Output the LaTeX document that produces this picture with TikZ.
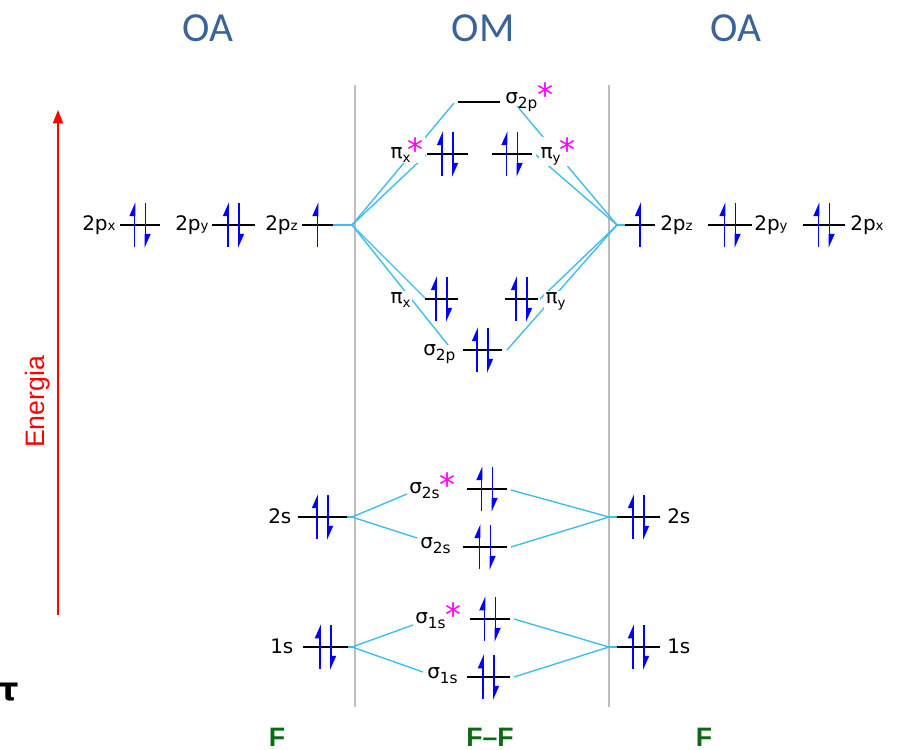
\documentclass[tikz,border=0pt]{standalone}
\usepackage{fontspec}
\setmainfont{DejaVu Sans}
\newfontfamily\hdrfont{Carlito}
\newfontfamily\arfont{Liberation Sans}
\usetikzlibrary{arrows.meta}
\definecolor{hdrblue}{RGB}{58,100,152}
\definecolor{conncol}{RGB}{64,190,235}
\definecolor{fgreen}{RGB}{10,105,20}
\definecolor{vgray}{RGB}{190,190,190}
\definecolor{ebl}{RGB}{0,0,255}
\definecolor{starmag}{RGB}{255,0,255}
\newcommand\sbs[1]{\raisebox{-4pt}{\fontsize{11.5}{12}\selectfont #1}}
\newcommand\sbl[1]{\raisebox{-3pt}{\fontsize{10}{12}\selectfont #1}}
\newcommand\sbp[1]{\raisebox{-0.5pt}{\fontsize{10}{12}\selectfont #1}}
\newcommand\stx{\raisebox{-2.9pt}{\textcolor{starmag}{\fontsize{24}{24}\selectfont *}}}
\newcommand\lvl[5]{%
  \coordinate (#1-w) at (#2,#4);
  \coordinate (#1-e) at (#3,#4);
  \draw[levelline] (#1-w) -- (#1-e);
  \pgfmathsetmacro\cx{(#2+#3)/2}%
  \ifnum#5=1
    \draw[elec] (\cx,#4+22) -- (\cx,#4-23);
  \fi
  \ifnum#5=2
    \draw[elec] (\cx-5.5,#4+22) -- (\cx-5.5,#4-23);
    \draw[elec] (\cx+5.5,#4-22) -- (\cx+5.5,#4+23);
  \fi}
\begin{document}
\begin{tikzpicture}[x=0.75pt,y=-0.75pt,
  levelline/.style={black,line width=1.2pt},
  elec/.style={ebl,line width=1.4pt,-{Triangle[left,length=9pt,width=7.5pt]}},
  conn/.style={conncol,line width=1.05pt},
  sepline/.style={vgray,line width=1pt},
  orb/.style={font=\fontsize{15}{18}\selectfont,inner sep=0pt,anchor=base west},
  orbw/.style={orb,fill=white,inner sep=1pt},
  hdr/.style={font=\hdrfont\fontsize{31}{31}\selectfont,text=hdrblue},
  atom/.style={font=\arfont\bfseries\fontsize{20}{20}\selectfont,text=fgreen,inner sep=0pt}]
\useasboundingbox (0,0) rectangle (905,749);

% headers
\node[hdr] (oa1) at (208,28) {OA};
\node[hdr] (om) at (483,28) {OM};
\node[hdr] (oa2) at (736,28) {OA};

% separators
\coordinate (sepLt) at (355,85); \coordinate (sepLb) at (355,707);
\coordinate (sepRt) at (609,85); \coordinate (sepRb) at (609,707);
\draw[sepline] (sepLt) -- (sepLb);
\draw[sepline] (sepRt) -- (sepRb);

% energy axis
\coordinate (eb) at (58,615); \coordinate (et) at (58,110);
\draw[red,line width=1.3pt,-{Triangle[length=10pt,width=7.5pt]}] (eb) -- (et);
\node[rotate=90,font=\arfont\fontsize{20}{20}\selectfont,text=red] (energia) at (38,402) {Energia};

% junctions and connector ends
\coordinate (jL2p) at (352,225); \coordinate (jR2p) at (617,225);
\coordinate (jL2s) at (352,517); \coordinate (jR2s) at (609,517);
\coordinate (jL1s) at (352,647); \coordinate (jR1s) at (609,647);
\coordinate (c-s2psL) at (454,103); \coordinate (c-s2psR) at (517,106);
\coordinate (c-pxs) at (426,155); \coordinate (c-pys) at (536,155);
\coordinate (c-px) at (426,299); \coordinate (c-py) at (540,299);
\coordinate (c-s2pL) at (448,345); \coordinate (c-s2pR) at (507,350);
\coordinate (c-s2ssL) at (407,494); \coordinate (c-s2ssR) at (511,490);
\coordinate (c-s2sL) at (417,538); \coordinate (c-s2sR) at (511,547);
\coordinate (c-s1ssL) at (413,625); \coordinate (c-s1ssR) at (514,619);
\coordinate (c-s1sL) at (423,672); \coordinate (c-s1sR) at (514,677);

% levels
\lvl{L2px}{120}{160}{225}{2}
\lvl{L2py}{212}{255}{225}{2}
\lvl{L2pz}{302}{333}{225}{1}
\lvl{R2pz}{625}{655}{225}{1}
\lvl{R2py}{708}{752}{225}{2}
\lvl{R2px}{803}{845}{225}{2}
\lvl{L2s}{298}{347}{517}{2}
\lvl{L1s}{303}{348}{647}{2}
\lvl{R2s}{617}{660}{517}{2}
\lvl{R1s}{617}{660}{647}{2}

% connectors
\draw[conn] (L2pz-e) -- (jL2p);
\draw[conn] (jR2p) -- (R2pz-w);
\draw[conn] (jL2p) -- (c-s2psL);
\draw[conn] (jL2p) -- (c-pxs);
\draw[conn] (jL2p) -- (c-px);
\draw[conn] (jL2p) -- (c-s2pL);
\draw[conn] (jR2p) -- (c-s2psR);
\draw[conn] (jR2p) -- (c-pys);
\draw[conn] (jR2p) -- (c-py);
\draw[conn] (jR2p) -- (c-s2pR);
\draw[conn] (L2s-e) -- (jL2s);
\draw[conn] (jL2s) -- (c-s2ssL);
\draw[conn] (jL2s) -- (c-s2sL);
\draw[conn] (c-s2ssR) -- (jR2s);
\draw[conn] (c-s2sR) -- (jR2s);
\draw[conn] (jR2s) -- (R2s-w);
\draw[conn] (L1s-e) -- (jL1s);
\draw[conn] (jL1s) -- (c-s1ssL);
\draw[conn] (jL1s) -- (c-s1sL);
\draw[conn] (c-s1ssR) -- (jR1s);
\draw[conn] (c-s1sR) -- (jR1s);
\draw[conn] (jR1s) -- (R1s-w);

% molecular levels
\lvl{s2ps}{458}{500}{102}{0}
\lvl{pxs}{427}{468}{154}{2}
\lvl{pys}{492}{532}{154}{2}
\lvl{px}{425}{458}{299}{2}
\lvl{py}{505}{538}{299}{2}
\lvl{s2p}{463}{502}{350}{2}
\lvl{s2ss}{467}{507}{489}{2}
\lvl{s2s}{463}{507}{547}{2}
\lvl{s1ss}{470}{510}{619}{2}
\lvl{s1s}{467}{510}{677}{2}

% labels
\node[orb] (t-L2px) at (82,230) {2p\sbp{x}};
\node[orb] (t-L2py) at (175,230) {2p\sbp{y}};
\node[orb] (t-L2pz) at (265,230) {2p\sbp{z}};
\node[orb] (t-R2pz) at (660,230) {2p\sbp{z}};
\node[orb] (t-R2py) at (754,230) {2p\sbp{y}};
\node[orb] (t-R2px) at (850,230) {2p\sbp{x}};
\node[orb] (t-L2s) at (268,523) {2s};
\node[orb] (t-L1s) at (270,653) {1s};
\node[orb] (t-R2s) at (667,523) {2s};
\node[orb] (t-R1s) at (667,653) {1s};
\node[orb] (t-s2ps) at (505,103) {σ\sbs{2p}\stx};
\node[orbw] (t-pxs) at (389,158) {π\sbl{x}\kern-2pt\stx};
\node[orbw] (t-pys) at (539,158) {π\sbl{y}\kern-1pt\stx};
\node[orbw] (t-px) at (389,303) {π\sbl{x}};
\node[orbw] (t-py) at (544,303) {π\sbl{y}};
\node[orb] (t-s2p) at (423,355) {σ\sbs{2p}};
\node[orb] (t-s2ss) at (409,493) {σ\sbs{2s}\stx};
\node[orb] (t-s2s) at (420,548) {σ\sbs{2s}};
\node[orb] (t-s1ss) at (415,623) {σ\sbs{1s}\stx};
\node[orb] (t-s1s) at (427,678) {σ\sbs{1s}};

% atoms
\node[atom] (fL) at (277,737) {F};
\node[atom] (fF) at (490,737) {F–F};
\node[atom] (fR) at (704,737) {F};

% stray glyph
\node[font=\bfseries\fontsize{24}{24}\selectfont,inner sep=0pt,anchor=base west] (tau) at (-2,700) {τ};
\end{tikzpicture}
\end{document}
